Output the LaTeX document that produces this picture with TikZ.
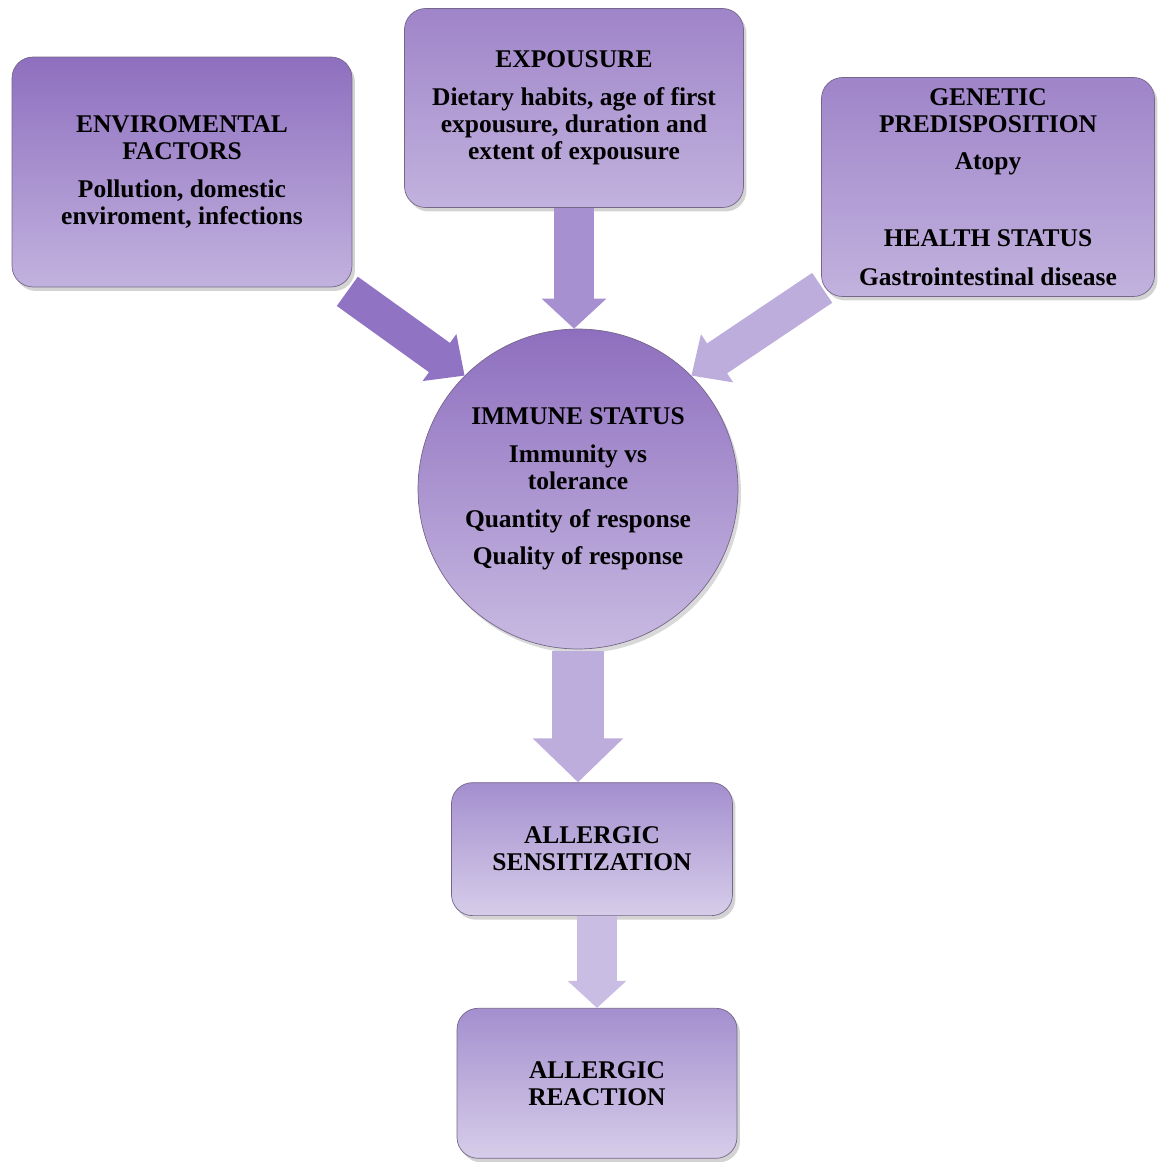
\documentclass[tikz,border=0pt]{standalone}
\usepackage{fontspec}
\setmainfont{Liberation Serif}
\usetikzlibrary{arrows.meta,positioning,shadows}
\definecolor{plumtop}{HTML}{8E6FBF}
\definecolor{plumlow}{HTML}{C2B2DE}
\definecolor{paletop}{HTML}{A48FCF}
\definecolor{palelow}{HTML}{D6CDE9}
\definecolor{plumedge}{HTML}{75668A}
\definecolor{arrowdark}{HTML}{9074C3}
\definecolor{arrowmid}{HTML}{A690D0}
\definecolor{arrowpale}{HTML}{BDADDC}

\begin{document}
\begin{tikzpicture}[x=0.02cm,y=-0.02cm,
    node distance=2.66cm,
    every node/.style={font=\bfseries\fontsize{14.5}{15.4}\selectfont,align=center,inner sep=0pt},
    factorbox/.style={rounded corners=.42cm,top color=plumtop,bottom color=plumlow,draw=plumedge,
        drop shadow={opacity=.35,shadow xshift=.06cm,shadow yshift=-.08cm}},
    statusdisc/.style={circle,top color=plumtop,bottom color=plumlow!90!white,draw=plumedge,
        minimum size=6.4cm,drop shadow={opacity=.3,shadow xshift=.06cm,shadow yshift=-.08cm}},
    fatarrow/.style n args={3}{line width=#1,-{Triangle[width=#2,length=#3]}}]
  \useasboundingbox (0,0) rectangle (1158,1162);

  % the three influences
  \node[factorbox,minimum width=6.8cm,minimum height=4.6cm] (env) at (182,172)
    {ENVIROMENTAL\\FACTORS\\[6pt]Pollution, domestic\\enviroment, infections};
  \node[factorbox,top color=plumtop!85!white,minimum width=6.78cm,minimum height=3.98cm] (expo) at (574,108)
    {EXPOUSURE\\[6pt]Dietary habits, age of first\\expousure, duration and\\extent of expousure};
  \node[factorbox,top color=plumtop!85!white,minimum width=6.66cm,minimum height=4.38cm] (gen) at (988,187)
    {GENETIC\\PREDISPOSITION\\[6pt]Atopy\\[28pt]HEALTH STATUS\\[7pt]Gastrointestinal disease};

  % immune status and outcome
  \node[statusdisc] (imm) at (578,489)
    {IMMUNE STATUS\\[6pt]Immunity vs\\tolerance\\[6pt]Quantity of response\\[6pt]Quality of response};
  \node[factorbox,top color=paletop,bottom color=palelow,minimum width=5.62cm,minimum height=2.66cm,
      below=of imm,xshift=.28cm] (sens) {ALLERGIC\\SENSITIZATION};
  \node[factorbox,top color=paletop,bottom color=palelow,minimum width=5.6cm,minimum height=3cm,
      below=1.84cm of sens,xshift=.1cm] (react) {ALLERGIC\\REACTION};

  \draw[fatarrow={.72cm}{1.12cm}{.62cm},arrowdark] ([shift={(-5,4)}]env.south east) -- (imm.135);
  \draw[fatarrow={.8cm}{1.26cm}{.6cm},arrowmid] (expo.south) -- (expo.south |- imm.north);
  \draw[fatarrow={.72cm}{1.12cm}{.62cm},arrowpale] ([shift={(1,-9)}]gen.south west) -- (imm.45);
  \draw[fatarrow={1.04cm}{1.76cm}{.88cm},arrowpale] ([yshift=-1pt]imm.south) -- (imm.south |- sens.north);
  \draw[fatarrow={.8cm}{1.14cm}{.54cm},arrowpale!80!white] (sens.south -| react.north) -- (react.north);
\end{tikzpicture}
\end{document}
